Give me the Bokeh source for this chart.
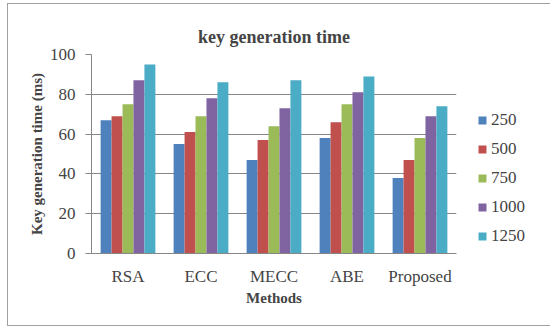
from bokeh.plotting import figure
from bokeh.models import FactorRange, Range1d, Legend, LegendItem, ColumnDataSource, FixedTicker, Title
from bokeh.transform import dodge
from bokeh.embed import file_html
from bokeh.resources import INLINE

methods = ["RSA", "ECC", "MECC", "ABE", "Proposed"]
series = ["250", "500", "750", "1000", "1250"]
v250 = [67, 55, 47, 58, 38]
v500 = [69, 61, 57, 66, 47]
v750 = [75, 69, 64, 75, 58]
v1000 = [87, 78, 73, 81, 69]
v1250 = [95, 86, 87, 89, 74]
colors = ["#4F81BD", "#C0504D", "#9BBB59", "#8064A2", "#4BACC6"]
y_ticks = [0, 20, 40, 60, 80, 100]

src = ColumnDataSource(dict(m=methods, s250=v250, s500=v500, s750=v750, s1000=v1000, s1250=v1250))

p = figure(frame_width=365, frame_height=199, x_range=FactorRange(*methods, range_padding=0),
           y_range=Range1d(0, 100), output_backend="svg", toolbar_location=None,
           min_border_left=83, min_border_right=85, min_border_top=50, min_border_bottom=72)
p.styles = {"border": "1px solid #a0a0a0", "margin-left": "7px", "margin-top": "3px"}
p.outline_line_color = None

keys = ["s250", "s500", "s750", "s1000", "s1250"]
offsets = [-0.3, -0.15, 0.0, 0.15, 0.3]
items = []
for k, off, c, name in zip(keys, offsets, colors, series):
    r = p.vbar(x=dodge("m", off, range=p.x_range), top=k, width=0.15, source=src,
               fill_color=c, line_color=None)
    items.append(LegendItem(label=name, renderers=[r]))

p.title.text = "key generation time"
p.title.align = "center"
p.title.text_font = "Liberation Serif"
p.title.text_font_size = "18px"
p.title.text_font_style = "bold"
# small blank spacer between the title and the plot frame
p.add_layout(Title(text=" ", text_font_size="1px", standoff=0), "above")

p.yaxis.ticker = FixedTicker(ticks=y_ticks)
p.yaxis.axis_label = "Key generation time (ms)"
p.xaxis.axis_label = "Methods"
for ax in (p.xaxis, p.yaxis):
    ax.axis_label_text_font = "Liberation Serif"
    ax.axis_label_text_font_size = "15px"
    ax.axis_label_text_font_style = "bold"
    ax.major_label_text_font = "Liberation Serif"
    ax.major_label_text_font_size = "17px"
    ax.axis_line_color = "#868686"
    ax.minor_tick_line_color = None
p.yaxis.major_tick_line_color = "#868686"
p.yaxis.major_tick_out = 6
p.yaxis.major_tick_in = 0
p.yaxis.major_label_standoff = 10
p.xaxis.major_tick_line_color = None
p.xaxis.major_label_standoff = 7
p.xaxis.axis_label_standoff = 1
p.yaxis.axis_label_standoff = 2
p.xgrid.grid_line_color = None
p.ygrid.grid_line_color = "#868686"

legend = Legend(items=items, location=(21, 7), border_line_color=None,
                label_text_font="Liberation Serif", label_text_font_size="17px",
                glyph_width=10, glyph_height=10, spacing=9, label_standoff=4,
                margin=0, padding=0, background_fill_alpha=0)
p.add_layout(legend, "right")

open("out.html", "w").write(file_html(p, INLINE))
